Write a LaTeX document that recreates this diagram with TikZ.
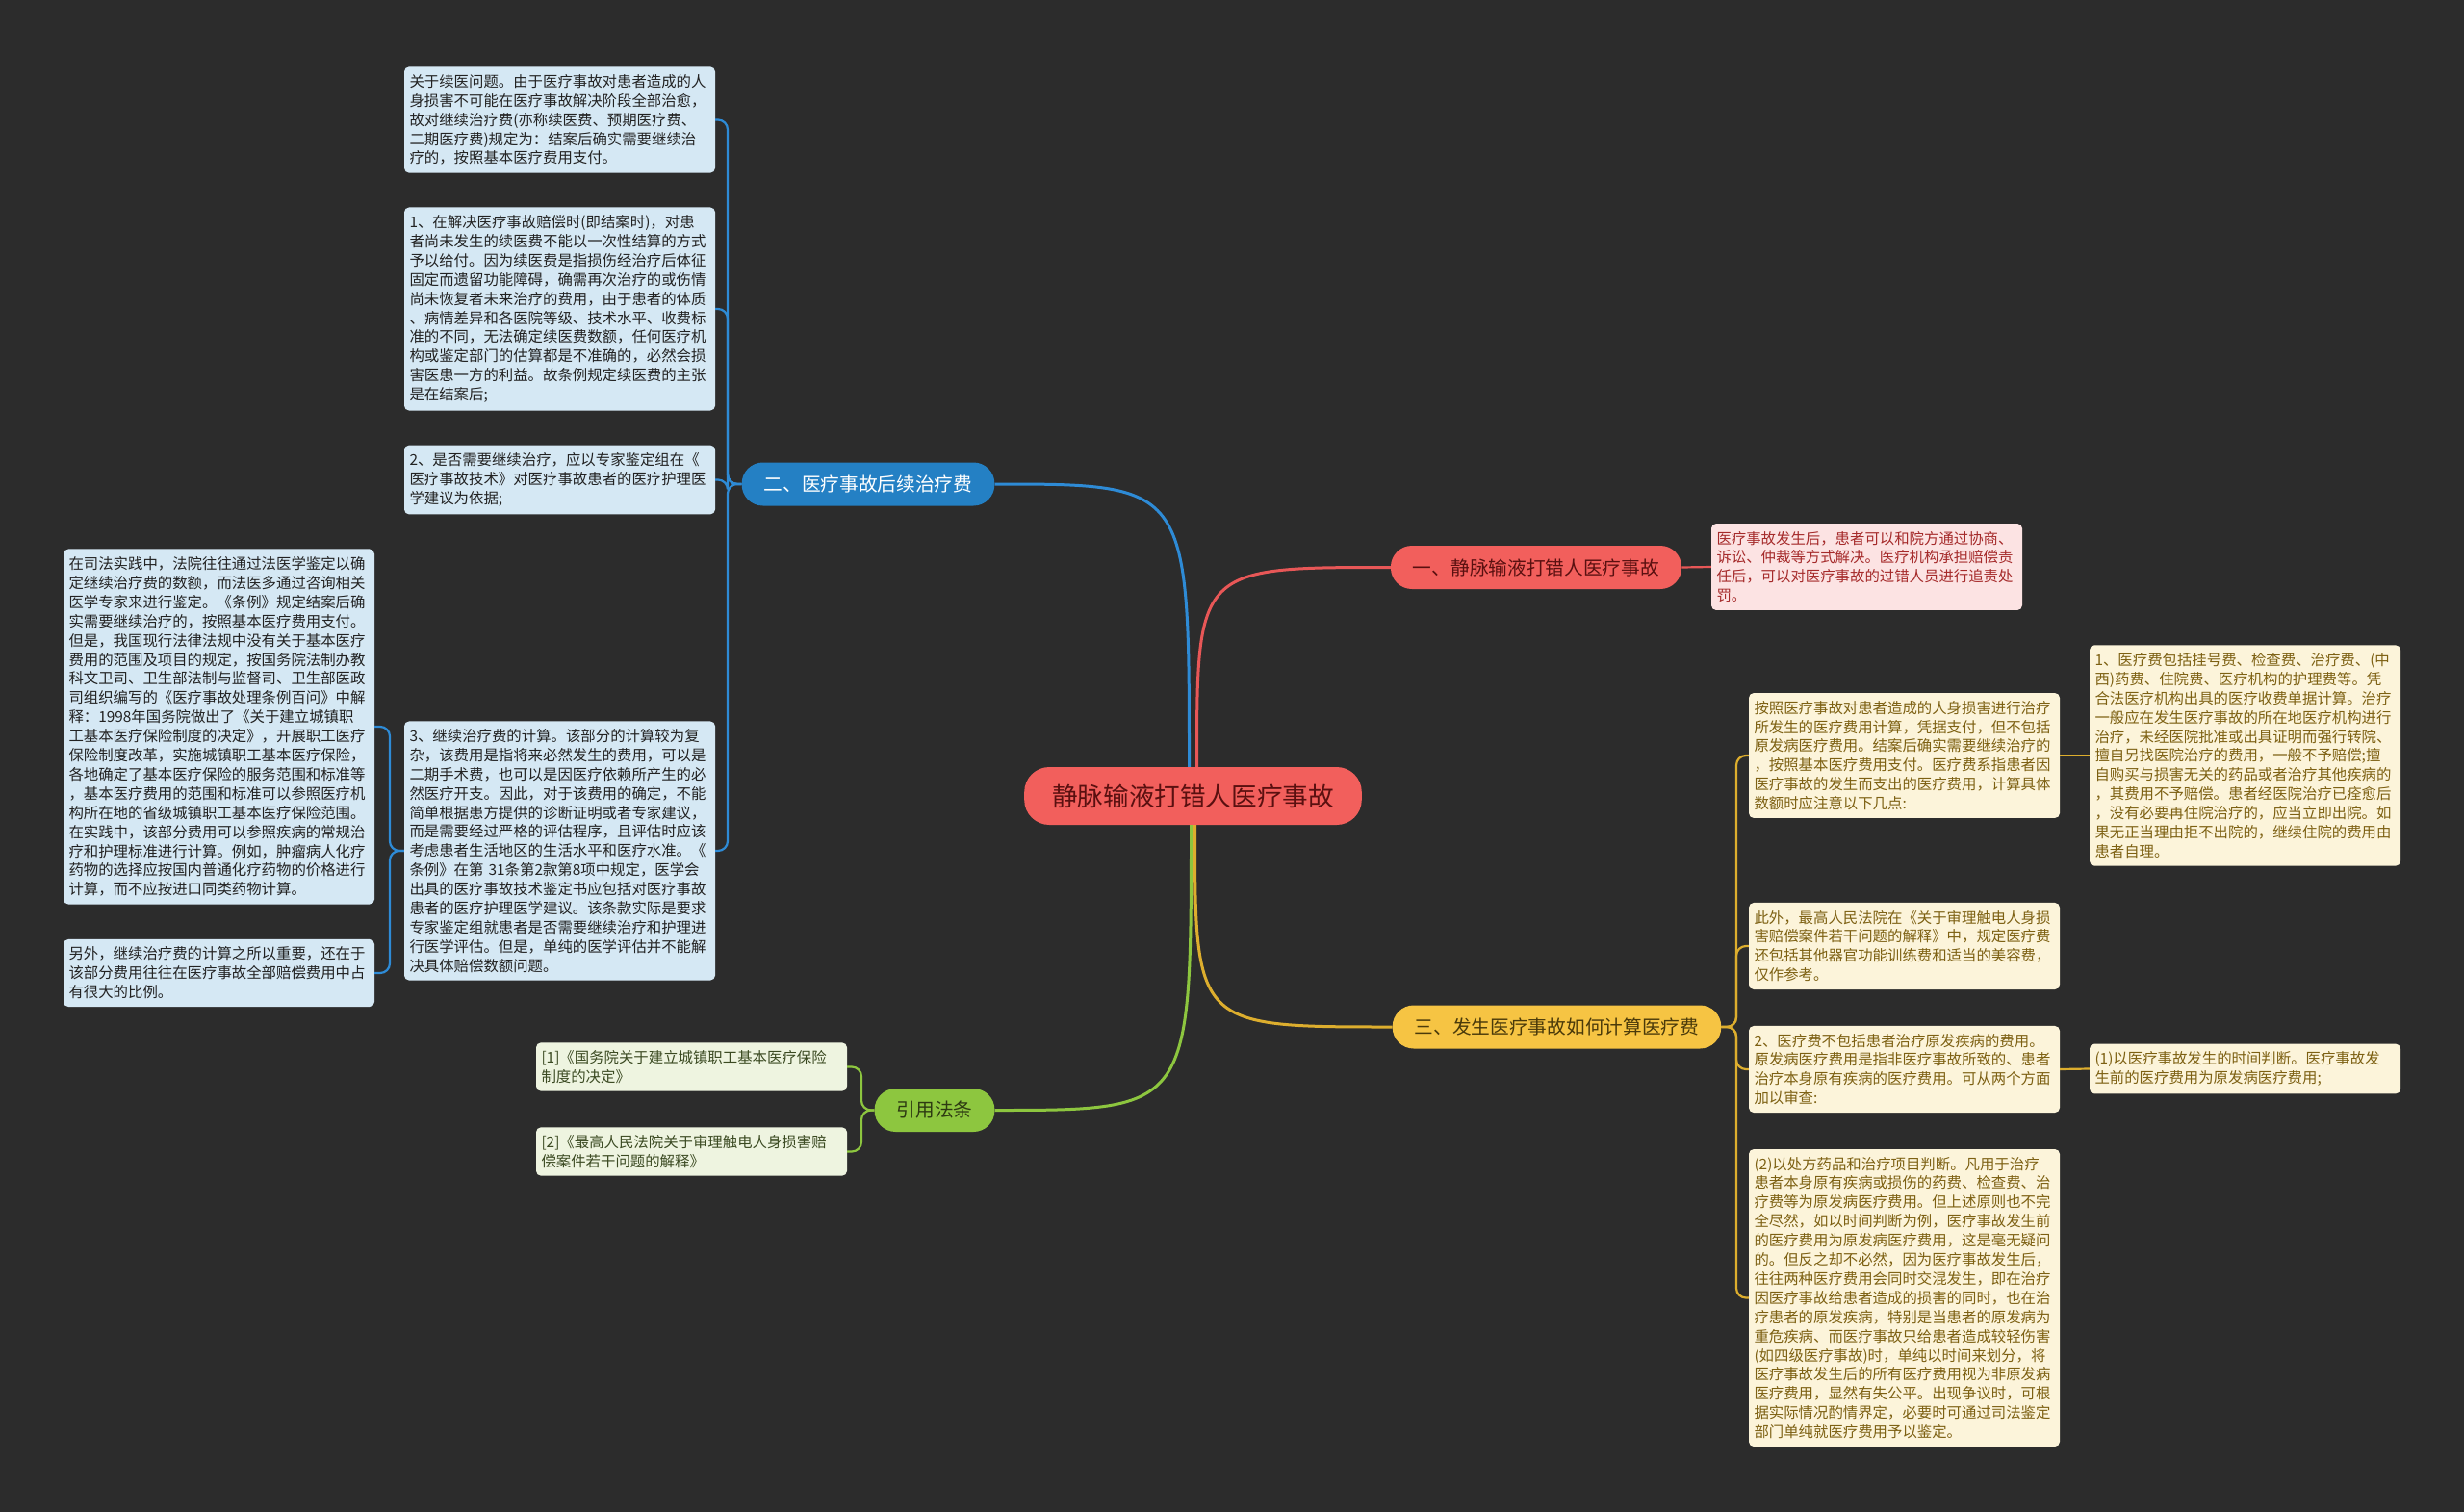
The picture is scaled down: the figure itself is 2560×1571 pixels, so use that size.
\documentclass[tikz,border=0pt]{standalone}
\usepackage{fontspec}
\setmainfont{Noto Sans CJK SC}
\definecolor{bgc}{HTML}{2C2C2C}
\definecolor{redf}{HTML}{F25F5C}
\definecolor{redl}{HTML}{E85757}
\definecolor{redt}{HTML}{5A1010}
\definecolor{redleaf}{HTML}{FCE3E3}
\definecolor{redleaft}{HTML}{A52A2A}
\definecolor{bluef}{HTML}{2480C4}
\definecolor{bluel}{HTML}{2E8BD6}
\definecolor{blueleaf}{HTML}{D5E8F4}
\definecolor{blueleaft}{HTML}{222222}
\definecolor{greenf}{HTML}{8DC63F}
\definecolor{greenl}{HTML}{8DC63F}
\definecolor{greent}{HTML}{2D3A12}
\definecolor{greenleaf}{HTML}{EEF4E0}
\definecolor{greenleaft}{HTML}{3B4A22}
\definecolor{yellowf}{HTML}{F6C443}
\definecolor{yellowl}{HTML}{DDAE2E}
\definecolor{yellowt}{HTML}{4A3A0A}
\definecolor{yellowleaf}{HTML}{FCF4DA}
\definecolor{yellowleaft}{HTML}{7D6012}
\tikzset{
  leafbox/.style={rectangle, rounded corners=5pt, text width=312pt, align=left,
    inner xsep=5.5pt, inner ysep=8pt, font=\fontsize{15.4}{19.9}\selectfont},
  branchbox/.style={rectangle, rounded corners=22pt, inner xsep=23pt, minimum height=45pt,
    font=\fontsize{19.7}{22}\selectfont},
  mainlink/.style={line width=3pt},
  leaflink/.style={line width=2.2pt, rounded corners=10pt},
}
\begin{document}
\begin{tikzpicture}[x=1pt,y=-1pt]
\useasboundingbox (0,0) rectangle (2560,1571);
\fill[bgc] (0,0) rectangle (2560,1571);

% center
\node[rectangle, rounded corners=26pt, fill=redf, text=redt, inner xsep=29pt, minimum height=60pt,
  font=\fontsize{26.6}{30}\selectfont] (c) at (1239.5,827) {静脉输液打错人医疗事故};

% branches
\node[branchbox, fill=redf, text=redt] (b1) at (1596,589.5) {一、静脉输液打错人医疗事故};
\node[branchbox, fill=bluef, text=white] (b2) at (902,503) {二、医疗事故后续治疗费};
\node[branchbox, fill=yellowf, text=yellowt] (b3) at (1617.5,1067) {三、发生医疗事故如何计算医疗费};
\node[branchbox, fill=greenf, text=greent] (b4) at (971,1153.5) {引用法条};

\draw[mainlink, redl] ([xshift=4pt]c.north) .. controls ([xshift=4pt]c.north |- b1.west) .. (b1.west);
\draw[mainlink, bluel] ([xshift=-4pt]c.north) .. controls ([xshift=-4pt]c.north |- b2.east) .. (b2.east);
\draw[mainlink, yellowl] ([xshift=2pt]c.south) .. controls ([xshift=2pt]c.south |- b3.west) .. (b3.west);
\draw[mainlink, greenl] ([xshift=-2pt]c.south) .. controls ([xshift=-2pt]c.south |- b4.east) .. (b4.east);

% red leaf
\node[leafbox, fill=redleaf, text=redleaft] (r1) at (1939.5,589) {医疗事故发生后，患者可以和院方通过协商、\\
诉讼、仲裁等方式解决。医疗机构承担赔偿责\\
任后，可以对医疗事故的过错人员进行追责处\\
罚。};
\draw[leaflink, redl] (b1.east) -- (r1.west);

% blue leaves
\node[leafbox, fill=blueleaf, text=blueleaft] (l1) at (581.5,124.5) {关于续医问题。由于医疗事故对患者造成的人\\
身损害不可能在医疗事故解决阶段全部治愈，\\
故对继续治疗费(亦称续医费、预期医疗费、\\
二期医疗费)规定为：结案后确实需要继续治\\
疗的，按照基本医疗费用支付。};
\node[leafbox, fill=blueleaf, text=blueleaft] (l2) at (581.5,321) {1、在解决医疗事故赔偿时(即结案时)，对患\\
者尚未发生的续医费不能以一次性结算的方式\\
予以给付。因为续医费是指损伤经治疗后体征\\
固定而遗留功能障碍，确需再次治疗的或伤情\\
尚未恢复者未来治疗的费用，由于患者的体质\\
、病情差异和各医院等级、技术水平、收费标\\
准的不同，无法确定续医费数额，任何医疗机\\
构或鉴定部门的估算都是不准确的，必然会损\\
害医患一方的利益。故条例规定续医费的主张\\
是在结案后;};
\node[leafbox, fill=blueleaf, text=blueleaft] (l3) at (581.5,498.5) {2、是否需要继续治疗，应以专家鉴定组在《\\
医疗事故技术》对医疗事故患者的医疗护理医\\
学建议为依据;};
\node[leafbox, fill=blueleaf, text=blueleaft] (l4) at (581.5,884) {3、继续治疗费的计算。该部分的计算较为复\\
杂，该费用是指将来必然发生的费用，可以是\\
二期手术费，也可以是因医疗依赖所产生的必\\
然医疗开支。因此，对于该费用的确定，不能\\
简单根据患方提供的诊断证明或者专家建议，\\
而是需要经过严格的评估程序，且评估时应该\\
考虑患者生活地区的生活水平和医疗水准。《\\
条例》在第 31条第2款第8项中规定，医学会\\
出具的医疗事故技术鉴定书应包括对医疗事故\\
患者的医疗护理医学建议。该条款实际是要求\\
专家鉴定组就患者是否需要继续治疗和护理进\\
行医学评估。但是，单纯的医学评估并不能解\\
决具体赔偿数额问题。};
\node[leafbox, fill=blueleaf, text=blueleaft] (ll1) at (227.5,755) {在司法实践中，法院往往通过法医学鉴定以确\\
定继续治疗费的数额，而法医多通过咨询相关\\
医学专家来进行鉴定。《条例》规定结案后确\\
实需要继续治疗的，按照基本医疗费用支付。\\
但是，我国现行法律法规中没有关于基本医疗\\
费用的范围及项目的规定，按国务院法制办教\\
科文卫司、卫生部法制与监督司、卫生部医政\\
司组织编写的《医疗事故处理条例百问》中解\\
释：1998年国务院做出了《关于建立城镇职\\
工基本医疗保险制度的决定》，开展职工医疗\\
保险制度改革，实施城镇职工基本医疗保险，\\
各地确定了基本医疗保险的服务范围和标准等\\
，基本医疗费用的范围和标准可以参照医疗机\\
构所在地的省级城镇职工基本医疗保险范围。\\
在实践中，该部分费用可以参照疾病的常规治\\
疗和护理标准进行计算。例如，肿瘤病人化疗\\
药物的选择应按国内普通化疗药物的价格进行\\
计算，而不应按进口同类药物计算。};
\node[leafbox, fill=blueleaf, text=blueleaft] (ll2) at (227.5,1011) {另外，继续治疗费的计算之所以重要，还在于\\
该部分费用往往在医疗事故全部赔偿费用中占\\
有很大的比例。};

\coordinate (bj) at (756,503);
\draw[leaflink, bluel] (b2.west) -- (bj) |- (l1.east);
\draw[leaflink, bluel] (b2.west) -- (bj) |- (l2.east);
\draw[leaflink, bluel] (b2.west) -- (bj) |- (l3.east);
\draw[leaflink, bluel] (b2.west) -- (bj) |- (l4.east);
\coordinate (bj4) at (405,884);
\draw[leaflink, bluel] (l4.west) -- (bj4) |- (ll1.east);
\draw[leaflink, bluel] (l4.west) -- (bj4) |- (ll2.east);

% green leaves
\node[leafbox, fill=greenleaf, text=greenleaft] (g1) at (718.5,1108.5) {[1]《国务院关于建立城镇职工基本医疗保险\\
制度的决定》};
\node[leafbox, fill=greenleaf, text=greenleaft] (g2) at (718.5,1196.5) {[2]《最高人民法院关于审理触电人身损害赔\\
偿案件若干问题的解释》};
\coordinate (gj) at (895,1153.5);
\draw[leaflink, greenl] (b4.west) -- (gj) |- (g1.east);
\draw[leaflink, greenl] (b4.west) -- (gj) |- (g2.east);

% yellow leaves
\node[leafbox, fill=yellowleaf, text=yellowleaft] (y1) at (1978.5,785) {按照医疗事故对患者造成的人身损害进行治疗\\
所发生的医疗费用计算，凭据支付，但不包括\\
原发病医疗费用。结案后确实需要继续治疗的\\
，按照基本医疗费用支付。医疗费系指患者因\\
医疗事故的发生而支出的医疗费用，计算具体\\
数额时应注意以下几点:};
\node[leafbox, fill=yellowleaf, text=yellowleaft] (y1c) at (2332.5,785) {1、医疗费包括挂号费、检查费、治疗费、(中\\
西)药费、住院费、医疗机构的护理费等。凭\\
合法医疗机构出具的医疗收费单据计算。治疗\\
一般应在发生医疗事故的所在地医疗机构进行\\
治疗，未经医院批准或出具证明而强行转院、\\
擅自另找医院治疗的费用，一般不予赔偿;擅\\
自购买与损害无关的药品或者治疗其他疾病的\\
，其费用不予赔偿。患者经医院治疗已痊愈后\\
，没有必要再住院治疗的，应当立即出院。如\\
果无正当理由拒不出院的，继续住院的费用由\\
患者自理。};
\node[leafbox, fill=yellowleaf, text=yellowleaft] (y2) at (1978.5,983) {此外，最高人民法院在《关于审理触电人身损\\
害赔偿案件若干问题的解释》中，规定医疗费\\
还包括其他器官功能训练费和适当的美容费，\\
仅作参考。};
\node[leafbox, fill=yellowleaf, text=yellowleaft] (y3) at (1978.5,1111) {2、医疗费不包括患者治疗原发疾病的费用。\\
原发病医疗费用是指非医疗事故所致的、患者\\
治疗本身原有疾病的医疗费用。可从两个方面\\
加以审查:};
\node[leafbox, fill=yellowleaf, text=yellowleaft] (y3c) at (2332.5,1110.5) {(1)以医疗事故发生的时间判断。医疗事故发\\
生前的医疗费用为原发病医疗费用;};
\node[leafbox, fill=yellowleaf, text=yellowleaft] (y4) at (1978.5,1348.5) {(2)以处方药品和治疗项目判断。凡用于治疗\\
患者本身原有疾病或损伤的药费、检查费、治\\
疗费等为原发病医疗费用。但上述原则也不完\\
全尽然，如以时间判断为例，医疗事故发生前\\
的医疗费用为原发病医疗费用，这是毫无疑问\\
的。但反之却不必然，因为医疗事故发生后，\\
往往两种医疗费用会同时交混发生，即在治疗\\
因医疗事故给患者造成的损害的同时，也在治\\
疗患者的原发疾病，特别是当患者的原发病为\\
重危疾病、而医疗事故只给患者造成较轻伤害\\
(如四级医疗事故)时，单纯以时间来划分，将\\
医疗事故发生后的所有医疗费用视为非原发病\\
医疗费用，显然有失公平。出现争议时，可根\\
据实际情况酌情界定，必要时可通过司法鉴定\\
部门单纯就医疗费用予以鉴定。};

\coordinate (yj) at (1804,1067);
\draw[leaflink, yellowl] (b3.east) -- (yj) |- (y1.west);
\draw[leaflink, yellowl] (b3.east) -- (yj) |- (y2.west);
\draw[leaflink, yellowl] (b3.east) -- (yj) |- (y3.west);
\draw[leaflink, yellowl] (b3.east) -- (yj) |- (y4.west);
\draw[leaflink, yellowl] (y1.east) -- (y1c.west);
\draw[leaflink, yellowl] (y3.east) -- (y3c.west);
\end{tikzpicture}
\end{document}
